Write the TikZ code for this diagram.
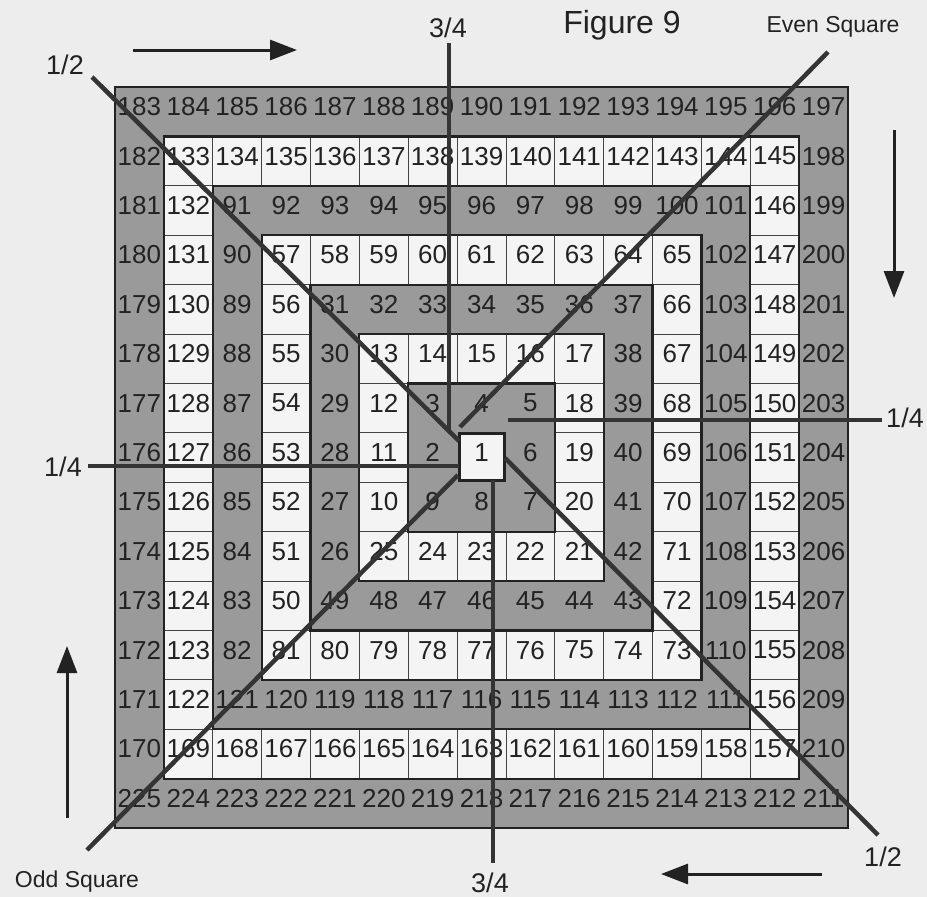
\documentclass[tikz,border=0pt]{standalone}
\usepackage{fontspec}
\setmainfont{Liberation Sans}
\usetikzlibrary{arrows.meta}
\definecolor{paper}{HTML}{EDEDED}
\definecolor{lightcell}{HTML}{F4F4F4}
\definecolor{darkcell}{HTML}{9A9A9A}
\definecolor{ink}{HTML}{222222}
\tikzset{
  num/.style={font=\fontsize{26}{26}\selectfont, text=ink, inner sep=0pt},
  lab/.style={font=\fontsize{27}{27}\selectfont, text=ink, inner sep=0pt},
  smalllab/.style={font=\fontsize{23}{23}\selectfont, text=ink, inner sep=0pt},
  titlelab/.style={font=\fontsize{32}{32}\selectfont, text=ink, inner sep=0pt},
  guide/.style={draw=ink!92, line width=4.5pt},
  guidethin/.style={draw=ink!92, line width=3.5pt},
  flow/.style={draw=ink, line width=3pt, -{Triangle[length=27pt,width=20pt]}},
  ringedge/.style={draw=ink, line width=2.2pt},
  celledge/.style={draw=ink!85, line width=0.9pt},
  centerbox/.style={draw=ink, line width=3pt, fill=lightcell, minimum width=45pt, minimum height=47pt, inner sep=0pt},
}
\begin{document}
\begin{tikzpicture}[x=1pt,y=-1pt]
\pgfmathsetmacro\gx{115}
\pgfmathsetmacro\gy{87}
\pgfmathsetmacro\cellw{48.87}
\pgfmathsetmacro\cellh{49.4}
\fill[paper] (0,0) rectangle (927,897);
\useasboundingbox (0,0) rectangle (927,897);
% rings
\foreach \k in {7,6,...,1}{
  \pgfmathsetmacro\xa{\gx+(7-\k)*\cellw}
  \pgfmathsetmacro\ya{\gy+(7-\k)*\cellh}
  \pgfmathsetmacro\xb{\gx+(8+\k)*\cellw}
  \pgfmathsetmacro\yb{\gy+(8+\k)*\cellh}
  \ifodd\k
    \fill[darkcell] (\xa,\ya) rectangle (\xb,\yb);
  \else
    \fill[lightcell] (\xa,\ya) rectangle (\xb,\yb);
  \fi
}
% thin cell borders inside the light rings
\foreach \r in {0,...,14}{
  \foreach \c in {0,...,14}{
    \pgfmathtruncatemacro\k{max(abs(\c-7),abs(\r-7))}
    \ifodd\k\else\ifnum\k>0
      \pgfmathsetmacro\xa{\gx+\c*\cellw}
      \pgfmathsetmacro\ya{\gy+\r*\cellh}
      \draw[celledge] (\xa,\ya) rectangle ++(\cellw,\cellh);
    \fi\fi
  }
}
% thick ring edges
\foreach \k in {7,6,...,1}{
  \pgfmathsetmacro\xa{\gx+(7-\k)*\cellw}
  \pgfmathsetmacro\ya{\gy+(7-\k)*\cellh}
  \pgfmathsetmacro\xb{\gx+(8+\k)*\cellw}
  \pgfmathsetmacro\yb{\gy+(8+\k)*\cellh}
  \draw[ringedge] (\xa,\ya) rectangle (\xb,\yb);
}
% centre cell
\node[centerbox] (one) at (481.5,456.5) {};
% numbers
\foreach \rowlist [count=\r from 0] in {
 {183,184,185,186,187,188,189,190,191,192,193,194,195,196,197},
 {182,133,134,135,136,137,138,139,140,141,142,143,144,145,198},
 {181,132,91,92,93,94,95,96,97,98,99,100,101,146,199},
 {180,131,90,57,58,59,60,61,62,63,64,65,102,147,200},
 {179,130,89,56,31,32,33,34,35,36,37,66,103,148,201},
 {178,129,88,55,30,13,14,15,16,17,38,67,104,149,202},
 {177,128,87,54,29,12,3,4,5,18,39,68,105,150,203},
 {176,127,86,53,28,11,2,1,6,19,40,69,106,151,204},
 {175,126,85,52,27,10,9,8,7,20,41,70,107,152,205},
 {174,125,84,51,26,25,24,23,22,21,42,71,108,153,206},
 {173,124,83,50,49,48,47,46,45,44,43,72,109,154,207},
 {172,123,82,81,80,79,78,77,76,75,74,73,110,155,208},
 {171,122,121,120,119,118,117,116,115,114,113,112,111,156,209},
 {170,169,168,167,166,165,164,163,162,161,160,159,158,157,210},
 {225,224,223,222,221,220,219,218,217,216,215,214,213,212,211}}{
  \foreach \n [count=\c from 0] in \rowlist {
    \pgfmathsetmacro\px{\gx+(\c+0.5)*\cellw}
    \pgfmathsetmacro\py{\gy+(\r+0.5)*\cellh-5}
    \node[num] (n\n) at (\px,\py) {\n};
  }
}
% labels
\node[titlelab] (fig) at (622,25) {Figure 9};
\node[smalllab] (even) at (833,27) {Even Square};
\node[smalllab] (odd) at (77,882) {Odd Square};
\node[lab] (tq1) at (448,28) {3/4};
\node[lab] (tq2) at (490,883) {3/4};
\node[lab] (hf1) at (65,65) {1/2};
\node[lab] (hf2) at (883,857) {1/2};
\node[lab] (qt1) at (63,467) {1/4};
\node[lab] (qt2) at (905,418) {1/4};
% guide line ends
\coordinate (hf1a) at (92,77);
\coordinate (hf1b) at (459,441);
\coordinate (hf2a) at (505,458);
\coordinate (hf2b) at (878,835);
\coordinate (odda) at (87,850);
\coordinate (oddb) at (458,475);
\coordinate (evena) at (460,427);
\coordinate (evenb) at (828,52);
\coordinate (tq1a) at (449,43);
\coordinate (tq1b) at (449,430);
\coordinate (tq2a) at (493,480);
\coordinate (tq2b) at (493,863);
\coordinate (qt1a) at (88,466);
\coordinate (qt1b) at (459,466);
\coordinate (qt2a) at (508,420);
\coordinate (qt2b) at (882,420);
\draw[guide] (hf1a) -- (hf1b);
\draw[guide] (hf2a) -- (hf2b);
\draw[guide] (odda) -- (oddb);
\draw[guide] (evena) -- (evenb);
\draw[guidethin] (tq1a) -- (tq1b);
\draw[guidethin] (tq2a) -- (tq2b);
\draw[guidethin] (qt1a) -- (qt1b);
\draw[guidethin] (qt2a) -- (qt2b);
% direction arrows
\coordinate (ta) at (133,50);
\coordinate (tb) at (297,50);
\coordinate (ra) at (894,130);
\coordinate (rb) at (894,298);
\coordinate (ba) at (822,874);
\coordinate (bb) at (661,874);
\coordinate (la) at (67,818);
\coordinate (lb) at (67,646);
\draw[flow] (ta) -- (tb);
\draw[flow] (ra) -- (rb);
\draw[flow] (ba) -- (bb);
\draw[flow] (la) -- (lb);
\end{tikzpicture}
\end{document}
